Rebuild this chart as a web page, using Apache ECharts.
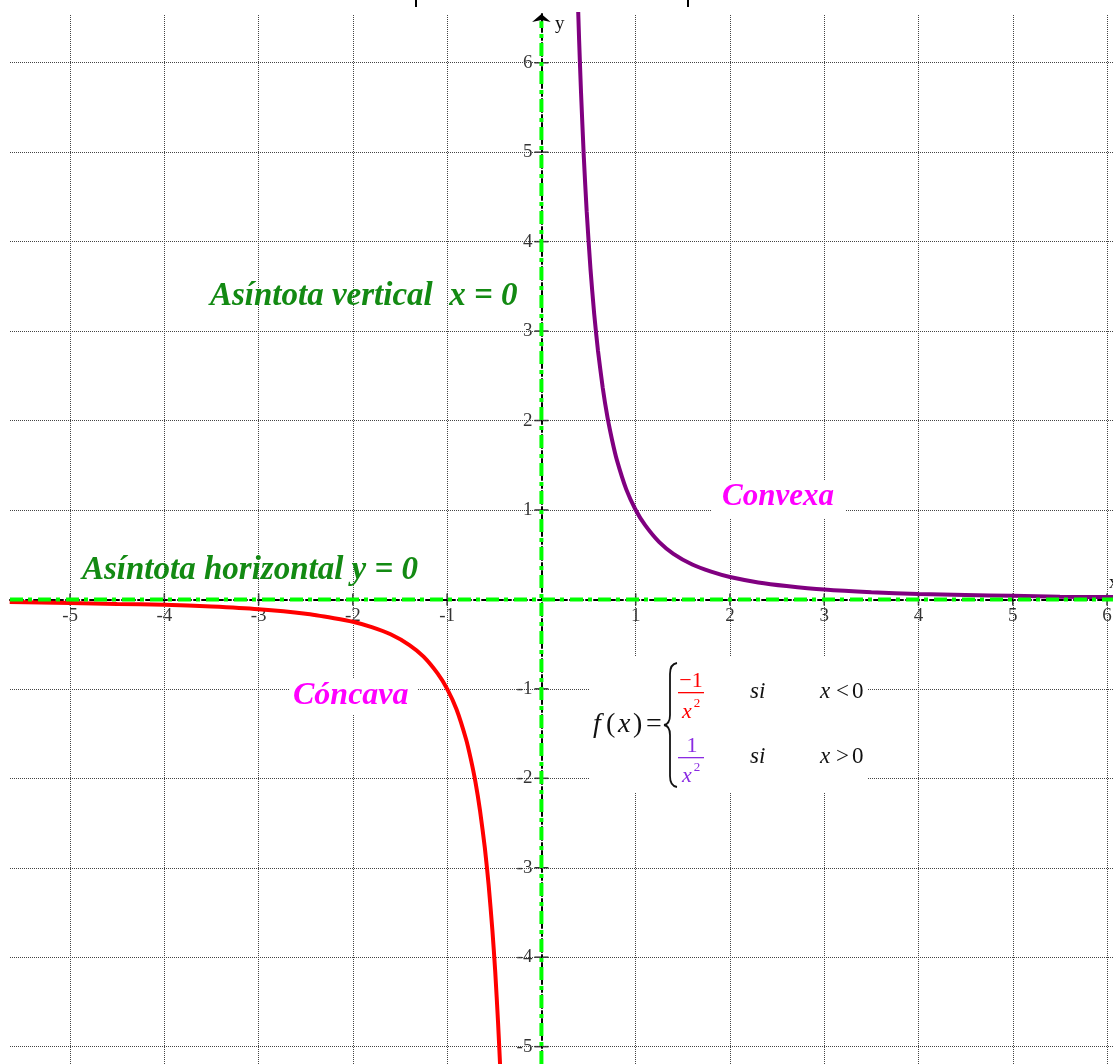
<!DOCTYPE html>
<html>
<head>
<meta charset="utf-8">
<script src="https://cdn.jsdelivr.net/npm/echarts@6/dist/echarts.min.js"></script>
<style>
  html, body { margin: 0; padding: 0; background: #fff; }
  #chart { width: 1113px; height: 1064px; }
</style>
</head>
<body>
<div id="chart"></div>
<script>
// rango visible de los ejes
var xRange = [-5.637, 6.063];
var yRange = [-5.194, 6.545];

// marcas de los ejes (sin el 0)
var xTicks = [-5, -4, -3, -2, -1, 1, 2, 3, 4, 5, 6];
var yTicks = [-5, -4, -3, -2, -1, 1, 2, 3, 4, 5, 6];
var xTickLabels = ['-5', '-4', '-3', '-2', '-1', '1', '2', '3', '4', '5', '6'];
var yTickLabels = ['-5', '-4', '-3', '-2', '-1', '1', '2', '3', '4', '5', '6'];

// asintotas
var asymptoteX = 0;
var asymptoteY = 0;

// rama x < 0 (roja)
var xNeg = [-5.64, -5.0, -4.5, -4.0, -3.5, -3.0, -2.5, -2.2, -2.0, -1.8, -1.6, -1.4, -1.25, -1.1, -1.0,
            -0.9, -0.8, -0.75, -0.7, -0.65, -0.6, -0.56, -0.52, -0.49, -0.46, -0.44, -0.43];
var yNeg = [-0.03, -0.04, -0.05, -0.06, -0.08, -0.11, -0.16, -0.21, -0.25, -0.31, -0.39, -0.51, -0.64, -0.83, -1.0,
            -1.23, -1.56, -1.78, -2.04, -2.37, -2.78, -3.19, -3.70, -4.16, -4.73, -5.17, -5.41];

// rama x > 0 (morada)
var xPos = [0.385, 0.40, 0.42, 0.45, 0.48, 0.52, 0.56, 0.6, 0.65, 0.7, 0.75, 0.8, 0.9, 1.0,
            1.1, 1.25, 1.4, 1.6, 1.8, 2.0, 2.3, 2.6, 3.0, 3.5, 4.0, 4.5, 5.0, 5.5, 6.07];
var yPos = [6.75, 6.25, 5.67, 4.94, 4.34, 3.70, 3.19, 2.78, 2.37, 2.04, 1.78, 1.56, 1.23, 1.0,
            0.83, 0.64, 0.51, 0.39, 0.31, 0.25, 0.19, 0.15, 0.11, 0.08, 0.06, 0.05, 0.04, 0.03, 0.027];

var serif = "'Liberation Serif', 'Times New Roman', serif";

function pares(xs, ys) {
  return xs.map(function (x, i) { return [x, ys[i]]; });
}

// texto suelto para la formula y los rotulos
function txt(text, x, y, font, color, align) {
  return {
    type: 'text', z: 101, x: x, y: y,
    style: { text: text, font: font, fill: color || '#111', align: align || 'left', verticalAlign: 'middle' }
  };
}

var chart = echarts.init(document.getElementById('chart'));

var braceStyle = { stroke: '#111', lineWidth: 1.8, fill: null };

var option = {
  animation: false,
  backgroundColor: '#fff',
  grid: { left: 10, top: 14, right: 0, bottom: 0, containLabel: false },
  xAxis: {
    type: 'value', min: xRange[0], max: xRange[1],
    axisLine: { show: true, onZero: true, lineStyle: { color: '#000', width: 2, type: [5, 3] } },
    axisTick: { show: false }, axisLabel: { show: false }, splitLine: { show: false }
  },
  yAxis: {
    type: 'value', min: yRange[0], max: yRange[1],
    axisLine: {
      show: true, onZero: true, symbol: ['none', 'arrow'], symbolSize: [14, 8],
      lineStyle: { color: '#000', width: 2, type: [5, 3] }
    },
    axisTick: { show: false }, axisLabel: { show: false }, splitLine: { show: false }
  },
  series: [
    {
      // cuadricula punteada
      type: 'line', data: [], z: 1, silent: true,
      markLine: {
        silent: true, symbol: 'none', label: { show: false },
        lineStyle: { type: 'dotted', color: '#444', width: 1 },
        data: xTicks.map(function (v) { return { xAxis: v }; })
          .concat(yTicks.map(function (v) { return { yAxis: v }; }))
      }
    },
    {
      // marcas y etiquetas del eje x
      type: 'scatter', z: 3, silent: true,
      symbol: 'rect', symbolSize: [1.5, 12],
      itemStyle: { color: '#000' },
      label: {
        show: true, position: 'bottom', distance: 1,
        formatter: function (p) { return p.name; },
        color: '#000', fontFamily: serif, fontSize: 19
      },
      data: xTicks.map(function (v, i) { return { name: xTickLabels[i], value: [v, 0] }; })
    },
    {
      // marcas y etiquetas del eje y
      type: 'scatter', z: 3, silent: true,
      symbol: 'rect', symbolSize: [14, 1.5],
      itemStyle: { color: '#000' },
      label: {
        show: true, position: 'left', distance: 2,
        formatter: function (p) { return p.name; },
        color: '#000', fontFamily: serif, fontSize: 19
      },
      data: yTicks.map(function (v, i) { return { name: yTickLabels[i], value: [0, v] }; })
    },
    {
      name: '-1/x^2', type: 'line', z: 5, showSymbol: false, smooth: 0.2,
      lineStyle: { color: '#ff0000', width: 4 },
      data: pares(xNeg, yNeg)
    },
    {
      name: '1/x^2', type: 'line', z: 5, showSymbol: false, smooth: 0.2,
      lineStyle: { color: '#800080', width: 4 },
      data: pares(xPos, yPos)
    },
    {
      // asintota vertical
      type: 'line', z: 6, showSymbol: false, silent: true,
      lineStyle: { color: '#00ff00', width: 4, type: [13, 5, 4, 6] },
      data: [[asymptoteX, yRange[0]], [asymptoteX, yRange[1] - 0.08]]
    },
    {
      // asintota horizontal
      type: 'line', z: 6, showSymbol: false, silent: true,
      lineStyle: { color: '#00ff00', width: 4, type: [13, 5, 4, 6] },
      data: [[xRange[0], asymptoteY], [xRange[1], asymptoteY]]
    }
  ],
  graphic: [
    // restos del borde superior
    { type: 'rect', z: 100, shape: { x: 415, y: 0, width: 2, height: 7 }, style: { fill: '#000' } },
    { type: 'rect', z: 100, shape: { x: 687, y: 0, width: 2, height: 7 }, style: { fill: '#000' } },
    // nombre de los ejes
    txt('y', 555, 24, '19px ' + serif),
    txt('x', 1109, 583, '18px ' + serif),
    // textos de asintotas
    txt('Asíntota vertical  x = 0', 210, 296, 'italic bold 33px ' + serif, '#138a13'),
    txt('Asíntota horizontal y = 0', 82, 570, 'italic bold 33px ' + serif, '#138a13'),
    // Convexa / Concava
    { type: 'rect', z: 100, shape: { x: 711, y: 481, width: 134, height: 38 }, style: { fill: '#fff' } },
    txt('Convexa', 722, 497, 'italic bold 31px ' + serif, '#ff00ff'),
    { type: 'rect', z: 100, shape: { x: 290, y: 678, width: 128, height: 37 }, style: { fill: '#fff' } },
    txt('Cóncava', 293, 696, 'italic bold 32px ' + serif, '#ff00ff'),
    // formula
    { type: 'rect', z: 100, shape: { x: 590, y: 657, width: 277, height: 136 }, style: { fill: '#fff' } },
    txt('f', 593, 725, 'italic 28px ' + serif),
    txt('(', 606, 725, '28px ' + serif),
    txt('x', 618, 725, 'italic 28px ' + serif),
    txt(')', 633, 725, '28px ' + serif),
    txt('=', 646, 725, '28px ' + serif),
    // llave
    { type: 'bezierCurve', z: 101, shape: { x1: 677, y1: 663, cpx1: 670, cpy1: 664, x2: 670, y2: 674 }, style: braceStyle },
    { type: 'line', z: 101, shape: { x1: 670, y1: 674, x2: 670, y2: 715 }, style: braceStyle },
    { type: 'bezierCurve', z: 101, shape: { x1: 670, y1: 715, cpx1: 670, cpy1: 724, x2: 664, y2: 725 }, style: braceStyle },
    { type: 'bezierCurve', z: 101, shape: { x1: 664, y1: 725, cpx1: 670, cpy1: 726, x2: 670, y2: 735 }, style: braceStyle },
    { type: 'line', z: 101, shape: { x1: 670, y1: 735, x2: 670, y2: 776 }, style: braceStyle },
    { type: 'bezierCurve', z: 101, shape: { x1: 670, y1: 776, cpx1: 670, cpy1: 786, x2: 677, y2: 787 }, style: braceStyle },
    // -1/x^2
    txt('\u22121', 691, 681, '22px ' + serif, '#ff0000', 'center'),
    { type: 'rect', z: 101, shape: { x: 678, y: 692, width: 26, height: 1.3 }, style: { fill: '#ff0000' } },
    txt('x', 687, 712, 'italic 22px ' + serif, '#ff0000', 'center'),
    txt('2', 697, 704, '13px ' + serif, '#ff0000', 'center'),
    // 1/x^2
    txt('1', 692, 746, '22px ' + serif, '#8a2be2', 'center'),
    { type: 'rect', z: 101, shape: { x: 678, y: 757, width: 26, height: 1.3 }, style: { fill: '#8a2be2' } },
    txt('x', 687, 776, 'italic 22px ' + serif, '#8a2be2', 'center'),
    txt('2', 697, 768, '13px ' + serif, '#8a2be2', 'center'),
    // condiciones
    txt('si', 750, 692, 'italic 23px ' + serif),
    txt('si', 750, 757, 'italic 23px ' + serif),
    txt('x', 820, 692, 'italic 23px ' + serif),
    txt('<', 836, 692, '23px ' + serif),
    txt('0', 852, 692, '23px ' + serif),
    txt('x', 820, 757, 'italic 23px ' + serif),
    txt('>', 836, 757, '23px ' + serif),
    txt('0', 852, 757, '23px ' + serif)
  ]
};

chart.setOption(option);
</script>
</body>
</html>
